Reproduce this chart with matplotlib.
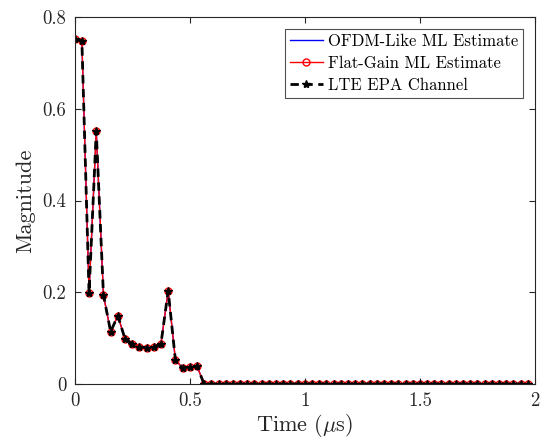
import numpy as np
import matplotlib.pyplot as plt

plt.rcParams["font.family"] = ["cmr10", "DejaVu Serif"]
plt.rcParams["mathtext.fontset"] = "cm"
plt.rcParams["axes.formatter.use_mathtext"] = True

# Sample spacing 1/32 us, 64 taps
n_taps = 64
ts = 1 / 32
time_us = np.arange(n_taps) * ts

# Channel tap magnitudes (first 18 taps, rest zero)
head = [0.752, 0.748, 0.199, 0.551, 0.194, 0.114, 0.149, 0.098, 0.088,
        0.081, 0.079, 0.080, 0.088, 0.203, 0.053, 0.035, 0.037, 0.039]
epa_channel = np.array(head + [0.0] * (n_taps - len(head)))
ofdm_est = epa_channel.copy()
flat_gain_est = epa_channel.copy()

fig = plt.figure(figsize=(5.4, 4.43), dpi=100)
ax = fig.add_axes([0.1383, 0.1332, 0.8524, 0.8284])

ax.plot(time_us, ofdm_est, color="blue", lw=1.0, label="OFDM-Like ML Estimate")
ax.plot(time_us, flat_gain_est, color="red", lw=1.0, marker="o", ms=5,
        mfc="none", mec="red", mew=1.0, label="Flat-Gain ML Estimate")
ax.plot(time_us, epa_channel, color="black", lw=2.0, ls=(0, (3, 2)), marker="*",
        ms=6, mfc="black", mec="black", label="LTE EPA Channel")

ax.set_xlim(0, 2)
ax.set_ylim(0, 0.8)
ax.set_xticks([0, 0.5, 1, 1.5, 2])
ax.set_xticklabels(["0", "0.5", "1", "1.5", "2"])
ax.set_yticks([0, 0.2, 0.4, 0.6, 0.8])
ax.set_yticklabels(["0", "0.2", "0.4", "0.6", "0.8"])
ax.tick_params(direction="in", top=True, right=True, labelsize=13.5, length=4,
               color="#262626", labelcolor="#262626", pad=6)
for sp in ax.spines.values():
    sp.set_color("#262626")
    sp.set_linewidth(0.8)

ax.set_xlabel(r"Time ($\mu$s)", fontsize=16, color="#262626", labelpad=1)
ax.set_ylabel("Magnitude", fontsize=16, color="#262626", labelpad=5)

leg = ax.legend(loc="upper right", fontsize=12, frameon=True, fancybox=False,
                edgecolor="#262626", handlelength=2.0, handletextpad=0.3,
                borderpad=0.3, labelspacing=0.4, borderaxespad=0.7)
leg.get_frame().set_linewidth(0.8)

fig.savefig("out.png", dpi=100)
